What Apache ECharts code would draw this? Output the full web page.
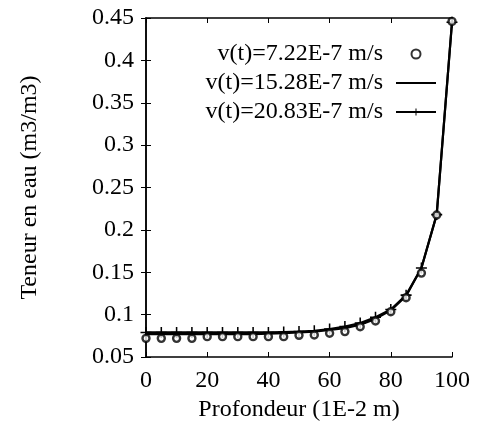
<!DOCTYPE html>
<html>
<head>
<meta charset="utf-8">
<script src="https://cdn.jsdelivr.net/npm/echarts@6/dist/echarts.min.js"></script>
<style>
html, body { margin: 0; padding: 0; background: #fff; }
#chart { width: 477px; height: 430px; }
</style>
</head>
<body>
<div id="chart"></div>
<script>
// profondeur (1E-2 m)
var depth = [0, 5, 10, 15, 20, 25, 30, 35, 40, 45, 50, 55, 60, 65, 70, 75, 80, 85, 90, 95, 100];
// teneur en eau (m3/m3)
var v722 = [0.072, 0.072, 0.072, 0.072, 0.074, 0.074, 0.074, 0.074, 0.074, 0.074, 0.0756, 0.076, 0.078, 0.080, 0.0857, 0.0925, 0.1034, 0.120, 0.149, 0.2175, 0.446];
var v1528 = [0.077, 0.077, 0.077, 0.077, 0.077, 0.077, 0.077, 0.077, 0.0775, 0.078, 0.079, 0.080, 0.082, 0.084, 0.088, 0.095, 0.105, 0.122, 0.155, 0.218, 0.445];
var v2083 = [0.079, 0.079, 0.079, 0.079, 0.079, 0.079, 0.079, 0.079, 0.079, 0.0795, 0.080, 0.081, 0.083, 0.086, 0.090, 0.097, 0.106, 0.123, 0.155, 0.218, 0.445];
var xTicks = [0, 20, 40, 60, 80, 100];
var yTicks = [0.05, 0.1, 0.15, 0.2, 0.25, 0.3, 0.35, 0.4, 0.45];

function pairs(ys) {
    return depth.map(function (d, i) { return [d, ys[i]]; });
}

var font = 'Liberation Serif';
var myChart = echarts.init(document.getElementById('chart'));
var plus = 'path://M4.3,0H5.7V4.3H10V5.7H5.7V10H4.3V5.7H0V4.3H4.3Z';

var option = {
    animation: false,
    textStyle: { fontFamily: font, color: '#000' },
    grid: { left: 146, right: 25, top: 18, bottom: 73 },
    legend: {
        right: 35,
        top: 37,
        orient: 'vertical',
        align: 'right',
        itemGap: 5,
        itemWidth: 40,
        itemHeight: 9,
        textStyle: { fontFamily: font, fontSize: 24, color: '#000', padding: [0, 8, 0, 0] },
        data: ['v(t)=7.22E-7 m/s', 'v(t)=15.28E-7 m/s', 'v(t)=20.83E-7 m/s']
    },
    xAxis: [{
        type: 'value',
        min: 0, max: 100, interval: 20,
        name: 'Profondeur (1E-2 m)',
        nameLocation: 'middle',
        nameGap: 41,
        nameTextStyle: { fontFamily: font, fontSize: 24, color: '#000' },
        axisLine: { lineStyle: { color: '#000', width: 1.5 } },
        axisTick: { inside: true, length: 5, lineStyle: { color: '#000' } },
        axisLabel: { fontFamily: font, fontSize: 24, color: '#000', margin: 12,
            formatter: function (v) { return xTicks.indexOf(v) >= 0 ? String(v) : ''; } },
        splitLine: { show: false }
    }, {
        type: 'value', position: 'top',
        min: 0, max: 100, interval: 20,
        axisLine: { lineStyle: { color: '#000', width: 1.5 } },
        axisTick: { inside: true, length: 5, lineStyle: { color: '#000' } },
        axisLabel: { show: false },
        splitLine: { show: false }
    }],
    yAxis: [{
        type: 'value',
        min: 0.05, max: 0.45, interval: 0.05,
        name: 'Teneur en eau (m3/m3)',
        nameLocation: 'middle',
        nameGap: 104,
        nameTextStyle: { fontFamily: font, fontSize: 24, color: '#000' },
        axisLine: { show: true, lineStyle: { color: '#000', width: 1.5 } },
        axisTick: { show: true, inside: true, length: 5, lineStyle: { color: '#000' } },
        axisLabel: { fontFamily: font, fontSize: 24, color: '#000', margin: 12,
            formatter: function (v) {
                var r = Math.round(v * 100) / 100;
                return yTicks.indexOf(r) >= 0 ? String(r) : '';
            } },
        splitLine: { show: false }
    }, {
        type: 'value', position: 'right',
        min: 0.05, max: 0.45, interval: 0.05,
        axisLine: { show: true, lineStyle: { color: '#000', width: 1.5 } },
        axisTick: { show: true, inside: true, length: 5, lineStyle: { color: '#000' } },
        axisLabel: { show: false },
        splitLine: { show: false }
    }],
    series: [
        {
            name: 'v(t)=7.22E-7 m/s',
            type: 'scatter',
            symbol: 'circle',
            symbolSize: 7,
            itemStyle: { color: '#fff', borderColor: '#000', borderWidth: 2.4 },
            z: 5,
            data: pairs(v722)
        },
        {
            name: 'v(t)=15.28E-7 m/s',
            type: 'line',
            symbol: 'none',
            lineStyle: { color: '#000', width: 2.2 },
            itemStyle: { color: 'rgba(0,0,0,0)' },
            data: pairs(v1528)
        },
        {
            name: 'v(t)=20.83E-7 m/s',
            type: 'line',
            symbol: plus,
            symbolSize: 11,
            lineStyle: { color: '#000', width: 2.2 },
            itemStyle: { color: '#000' },
            data: pairs(v2083)
        }
    ]
};
myChart.setOption(option);
</script>
</body>
</html>
